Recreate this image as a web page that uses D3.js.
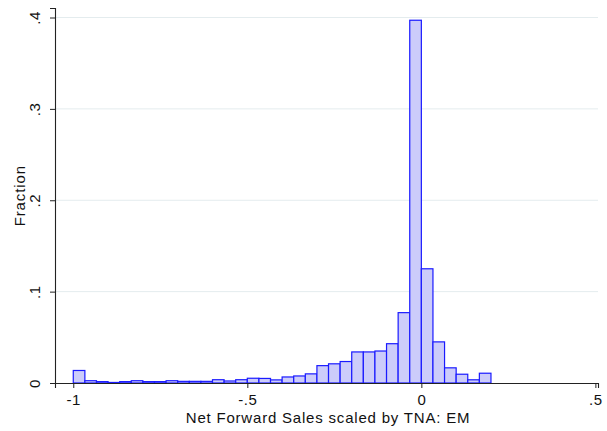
<!DOCTYPE html>
<html>
<head>
<meta charset="utf-8">
<script src="https://cdn.jsdelivr.net/npm/d3@7"></script>
<style>
  html, body { margin: 0; padding: 0; background: #fff; }
  svg { display: block; font-family: "Liberation Sans", Arial, Helvetica, sans-serif; }
</style>
</head>
<body>
<svg id="chart" width="607" height="431"></svg>
<script>
// Histogram of net forward sales scaled by TNA (EM), 36 bins of width 1/30 from -1 to 0.2
const binStart = -1;
const binWidth = 1 / 30;
const fractions = [
  0.0137, 0.0025, 0.0015, 0.0006, 0.0015, 0.0025, 0.0015, 0.0015, 0.0025,
  0.0018, 0.0018, 0.0018, 0.0036, 0.0022, 0.0036, 0.0052, 0.0050, 0.0034,
  0.0066, 0.0077, 0.0100, 0.0190, 0.0210, 0.0235, 0.0340, 0.0340, 0.0350,
  0.0430, 0.0770, 0.3970, 0.1250, 0.0450, 0.0166, 0.0096, 0.0035, 0.0107
];
const xTicks = [-1, -0.5, 0, 0.5];
const xTickLabels = ["-1", "-.5", "0", ".5"];
const yTicks = [0, 0.1, 0.2, 0.3, 0.4];
const yTickLabels = ["0", ".1", ".2", ".3", ".4"];
const xTitle = "Net Forward Sales scaled by TNA: EM";
const yTitle = "Fraction";

const FONT = "Liberation Sans, Arial, sans-serif";
const svg = d3.select("#chart");

const x = d3.scaleLinear().domain([-1.0525, 0.5075]).range([55, 598]);
const y = d3.scaleLinear().domain([0, 0.4104]).range([383, 8]);

// horizontal grid lines
svg.append("g")
  .selectAll("line")
  .data(yTicks.filter(d => d > 0))
  .join("line")
  .attr("x1", x.range()[0]).attr("x2", x.range()[1])
  .attr("y1", d => y(d)).attr("y2", d => y(d))
  .attr("stroke", "#e4ecee")
  .attr("stroke-width", 1);

// bars
const bins = fractions.map((v, i) => ({ x0: binStart + i * binWidth, x1: binStart + (i + 1) * binWidth, v }));
svg.append("g")
  .selectAll("rect")
  .data(bins)
  .join("rect")
  .attr("x", d => x(d.x0))
  .attr("width", d => x(d.x1) - x(d.x0))
  .attr("y", d => y(d.v))
  .attr("height", d => y(0) - y(d.v))
  .attr("fill", "#ccccfa")
  .attr("stroke", "#1a1aff")
  .attr("stroke-width", 1.2);

// x axis
const xAxis = d3.axisBottom(x)
  .tickValues(xTicks)
  .tickFormat((d, i) => xTickLabels[i])
  .tickSizeOuter(0)
  .tickSize(5)
  .tickPadding(6);
const gx = svg.append("g").attr("transform", `translate(0,${y(0)})`).call(xAxis);
gx.select(".domain").attr("stroke", "#222").attr("stroke-width", 1.1);
gx.selectAll(".tick line").attr("stroke", "#222");
gx.selectAll(".tick text")
  .attr("font-size", 15).attr("fill", "#111")
  .attr("font-family", FONT)
  .attr("letter-spacing", 0.6);

// y axis
const yAxis = d3.axisLeft(y)
  .tickValues(yTicks)
  .tickFormat((d, i) => yTickLabels[i])
  .tickSizeOuter(0)
  .tickSize(5);
const gy = svg.append("g").attr("transform", `translate(${x.range()[0]},0)`).call(yAxis);
gy.select(".domain").attr("stroke", "#222").attr("stroke-width", 1.1);
gy.selectAll(".tick line").attr("stroke", "#222");
gy.selectAll(".tick text")
  .attr("font-size", 15).attr("fill", "#111")
  .attr("font-family", FONT)
  .attr("letter-spacing", 0.6)
  .attr("x", null).attr("dy", null)
  .attr("text-anchor", "middle")
  .attr("transform", "translate(-15,0) rotate(-90)");

// axis titles
svg.append("text")
  .attr("x", 328)
  .attr("y", 423)
  .attr("text-anchor", "middle")
  .attr("font-size", 15)
  .attr("letter-spacing", 0.8)
  .attr("fill", "#111")
  .text(xTitle);

svg.append("text")
  .attr("transform", `translate(25,${y(0.205)}) rotate(-90)`)
  .attr("text-anchor", "middle")
  .attr("font-size", 15)
  .attr("letter-spacing", 0.9)
  .attr("fill", "#111")
  .text(yTitle);
</script>
</body>
</html>
